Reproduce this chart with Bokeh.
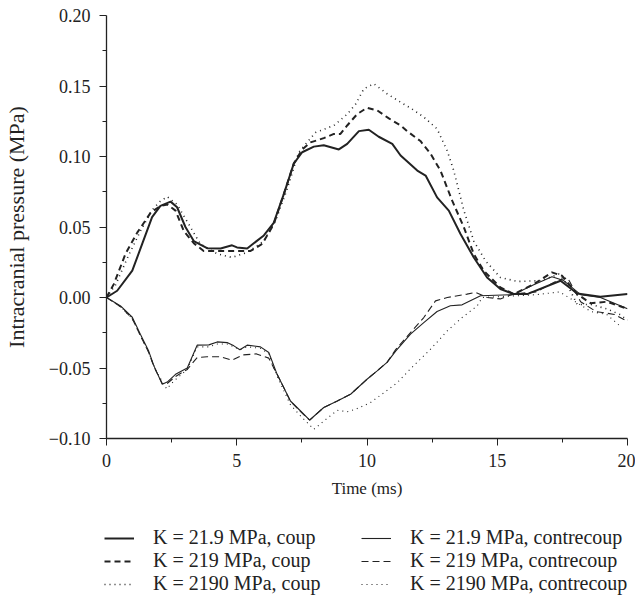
from bokeh.plotting import figure
from bokeh.models import FixedTicker, Legend, LegendItem, Range1d
from bokeh.layouts import column
from bokeh.embed import file_html
from bokeh.resources import INLINE

# ---- data (time in ms, pressure in MPa) ----
coup_219_t = [0, 0.41, 0.99, 1.37, 1.75, 2.07, 2.46, 2.71, 3.03, 3.35, 3.86, 4.38, 4.82, 5.01, 5.4, 6.04, 6.42,
              6.81, 7.19, 7.51, 7.96, 8.34, 8.92, 9.24, 9.69, 10.07, 10.45, 10.97, 11.29, 11.93, 12.25, 12.69,
              13.14, 13.59, 14.1, 14.61, 15.12, 15.64, 16.15, 17.43, 18.07, 18.96, 20]
coup_219_p = [0, 0.0048, 0.019, 0.038, 0.057, 0.065, 0.068, 0.064, 0.05, 0.04, 0.035, 0.0348, 0.037, 0.0355,
              0.0348, 0.044, 0.053, 0.0735, 0.095, 0.103, 0.107, 0.108, 0.105, 0.109, 0.118, 0.119, 0.114, 0.109,
              0.1007, 0.09, 0.0865, 0.071, 0.0616, 0.045, 0.0284, 0.0142, 0.006, 0.0024, 0.0024, 0.0119, 0.0028,
              0.0005, 0.0024]

coup_2190_t = [0, 0.28, 0.73, 1.18, 1.69, 2.07, 2.33, 2.65, 2.97, 3.35, 3.73, 4.38, 5.01, 5.53, 5.98, 6.42,
               6.81, 7.19, 7.51, 7.83, 8.34, 8.73, 8.98, 9.24, 9.62, 10.0, 10.39, 10.84, 11.29, 11.54, 12.05,
               12.44, 12.82, 13.27, 13.72, 14.1, 14.48, 15.12, 15.64, 16.4, 17.1, 17.49, 18.07, 18.58, 19.22, 20]
coup_2190_p = [0, 0.0095, 0.031, 0.046, 0.06, 0.065, 0.066, 0.0616, 0.047, 0.0385, 0.033, 0.033, 0.033, 0.033,
               0.038, 0.052, 0.0735, 0.095, 0.105, 0.11, 0.113, 0.116, 0.116, 0.122, 0.13, 0.1346, 0.1327, 0.127,
               0.122, 0.118, 0.111, 0.102, 0.09, 0.0687, 0.0497, 0.0308, 0.019, 0.0071, 0.0024, 0.0095, 0.0178,
               0.0154, 0.0024, -0.004, -0.003, -0.008]

coup_21900_t = [0, 0.35, 0.85, 1.3, 1.75, 2.05, 2.33, 2.71, 3.22, 3.6, 4.25, 4.82, 5.4, 6.04, 6.5, 6.9, 7.38,
                7.7, 8.02, 8.73, 9.24, 9.56, 9.88, 10.26, 10.77, 11.29, 11.7, 12.18, 12.69, 13.08, 13.33, 13.72,
                14.1, 14.55, 15.12, 15.77, 16.66, 17.36, 17.68, 18.07, 18.6, 19.2, 19.7, 20]
coup_21900_p = [0, 0.009, 0.03, 0.047, 0.062, 0.068, 0.0715, 0.066, 0.05, 0.038, 0.031, 0.0284, 0.032, 0.04,
                0.055, 0.075, 0.103, 0.11, 0.117, 0.122, 0.13, 0.137, 0.148, 0.1516, 0.1445, 0.1385, 0.134, 0.128,
                0.1196, 0.104, 0.09, 0.0616, 0.04, 0.026, 0.0142, 0.0114, 0.0119, 0.0166, 0.0095, -0.005, -0.005,
                -0.008, -0.012, -0.016]

contre_219_t = [0, 0.54, 0.99, 1.3, 1.62, 1.82, 2.14, 2.33, 2.65, 3.1, 3.48, 3.93, 4.25, 4.63, 4.89, 5.12, 5.4,
                5.91, 6.23, 6.55, 7.06, 7.45, 7.8, 8.34, 8.86, 9.37, 10.0, 10.39, 10.77, 11.1, 11.67, 12.18, 12.69,
                13.2, 13.65, 14.36, 15.6, 16.4, 17.1, 17.55, 18.2, 18.96, 20]
contre_219_p = [0, -0.006, -0.014, -0.026, -0.038, -0.0485, -0.0615, -0.06, -0.0545, -0.05, -0.0338, -0.0336,
                -0.0315, -0.032, -0.0343, -0.037, -0.0338, -0.035, -0.039, -0.0545, -0.0734, -0.0805, -0.0869,
                -0.078, -0.0734, -0.0686, -0.058, -0.052, -0.046, -0.038, -0.026, -0.0178, -0.0099, -0.0059,
                -0.0052, 0.0012, 0.002, 0.009, 0.0147, 0.012, 0.002, 0.0, -0.008]

contre_2190_t = [0, 0.54, 0.99, 1.3, 1.62, 1.82, 2.14, 2.33, 2.65, 3.1, 3.48, 3.86, 4.38, 4.82, 5.25, 5.76, 6.23,
                 6.55, 7.06, 7.45, 7.8, 8.34, 8.86, 9.37, 10.0, 10.39, 10.77, 11.1, 11.67, 12.18, 12.63, 13.08,
                 13.84, 14.17, 14.61, 15.12, 15.6, 16.5, 17.3, 17.7, 18.2, 18.8, 19.5, 20]
contre_2190_p = [0, -0.0065, -0.015, -0.027, -0.039, -0.049, -0.061, -0.061, -0.056, -0.051, -0.0426, -0.042,
                 -0.042, -0.0445, -0.0407, -0.04, -0.043, -0.0545, -0.0734, -0.081, -0.087, -0.078, -0.0734,
                 -0.0686, -0.058, -0.052, -0.046, -0.037, -0.0249, -0.0142, -0.0024, 0.0, 0.0024, 0.0036, 0.0,
                 -0.001, 0.0024, 0.004, 0.012, 0.014, -0.003, -0.01, -0.012, -0.017]

contre_21900_t = [0, 0.54, 0.99, 1.3, 1.62, 1.9, 2.31, 2.6, 3.1, 3.48, 3.93, 4.25, 4.63, 4.89, 5.12, 5.4, 5.91,
                  6.23, 6.55, 7.06, 7.45, 7.96, 8.34, 8.86, 9.24, 9.56, 10.13, 10.65, 11.16, 11.7, 12.44, 13.08,
                  13.65, 14.23, 14.42, 15.5, 16.5, 17.4, 18.0, 18.6, 19.2, 19.7]
contre_21900_p = [0, -0.0065, -0.015, -0.027, -0.039, -0.052, -0.0648, -0.059, -0.051, -0.035, -0.035, -0.033,
                  -0.033, -0.035, -0.037, -0.035, -0.036, -0.04, -0.056, -0.076, -0.084, -0.0935, -0.0876, -0.08,
                  -0.081, -0.0793, -0.0746, -0.0675, -0.0604, -0.05, -0.0367, -0.0237, -0.0142, -0.006, 0.0,
                  0.001, 0.002, 0.004, -0.003, -0.01, -0.012, -0.02]

labels_coup = ["K = 21.9 MPa, coup", "K = 219 MPa, coup", "K = 2190 MPa, coup"]
labels_contre = ["K = 21.9 MPa, contrecoup", "K = 219 MPa, contrecoup", "K = 2190 MPa, contrecoup"]

x_ticks = [0, 5, 10, 15, 20]
x_minor = [2.5, 7.5, 12.5, 17.5]
y_ticks = [-0.10, -0.05, 0.00, 0.05, 0.10, 0.15, 0.20]
y_minor = [-0.075, -0.025, 0.025, 0.075, 0.125, 0.175]
y_tick_labels = {-0.1: "\u22120.10", -0.05: "\u22120.05", 0: "0.00", 0.05: "0.05", 0.1: "0.10",
                 0.15: "0.15", 0.2: "0.20"}

FONT = "Liberation Serif"
INK = "#222222"

p = figure(frame_width=521, frame_height=423, output_backend="svg", toolbar_location=None,
           x_range=Range1d(0, 20), y_range=Range1d(-0.10, 0.20),
           min_border_left=106, min_border_top=15, min_border_right=8, min_border_bottom=70)
p.outline_line_color = None
p.xgrid.visible = False
p.ygrid.visible = False

styles = [("solid", 2.0), ("6 4", 2.0), ("1 4", 1.6), ("solid", 1.1), ("7 4", 1.1), ("1 4", 1.1)]
series = [(coup_219_t, coup_219_p), (coup_2190_t, coup_2190_p), (coup_21900_t, coup_21900_p),
          (contre_219_t, contre_219_p), (contre_2190_t, contre_2190_p), (contre_21900_t, contre_21900_p)]
for (t, pv), (dash, w) in zip(series, styles):
    p.line(t, pv, line_color=INK, line_width=w, line_dash=dash)

for ax in (p.xaxis[0], p.yaxis[0]):
    ax.axis_line_color = INK
    ax.axis_line_width = 1.3
    ax.major_tick_line_color = INK
    ax.minor_tick_line_color = INK
    ax.major_tick_in = 0
    ax.major_tick_out = 7
    ax.minor_tick_in = 0
    ax.minor_tick_out = 4
    ax.major_label_text_font = FONT
    ax.major_label_text_font_size = "18px"
    ax.major_label_text_color = INK
    ax.axis_label_text_font = FONT
    ax.axis_label_text_font_style = "normal"
    ax.axis_label_text_color = INK

p.xaxis.ticker = FixedTicker(ticks=x_ticks, minor_ticks=x_minor)
p.yaxis.ticker = FixedTicker(ticks=y_ticks, minor_ticks=y_minor)
p.yaxis.major_label_overrides = y_tick_labels
p.xaxis.axis_label = "Time (ms)"
p.yaxis.axis_label = "Intracranial pressure (MPa)"
p.xaxis.axis_label_text_font_size = "17px"
p.yaxis.axis_label_text_font_size = "22px"
p.xaxis.major_label_standoff = 8
p.yaxis.major_label_standoff = 9
p.xaxis.axis_label_standoff = 9
p.yaxis.axis_label_standoff = 17

# ---- legend in its own strip below the plot (series drawn out of view, only keys show) ----
q = figure(frame_width=639, frame_height=92, output_backend="svg", toolbar_location=None,
           x_axis_type=None, y_axis_type=None, x_range=Range1d(0, 20), y_range=Range1d(1, 2),
           min_border_left=0, min_border_top=0, min_border_right=0, min_border_bottom=0)
q.outline_line_color = None
q.xgrid.visible = False
q.ygrid.visible = False
keys = [q.line(t, pv, line_color=INK, line_width=w, line_dash=dash)
        for (t, pv), (dash, w) in zip(series, styles)]

items = [LegendItem(label=labels_coup[i], renderers=[keys[i]]) for i in range(3)] + \
        [LegendItem(label=labels_contre[i], renderers=[keys[3 + i]]) for i in range(3)]
legend = Legend(items=items, ncols=2, location=(104, 5), border_line_color=None,
                background_fill_alpha=0, label_text_font=FONT, label_text_font_size="20px",
                label_text_color=INK, glyph_width=30, label_standoff=19, spacing=0,
                label_height=22, glyph_height=22, label_width=208, padding=0, margin=0)
q.add_layout(legend, "center")

layout = column(p, q, spacing=0)
open("out.html", "w").write(file_html(layout, INLINE))
